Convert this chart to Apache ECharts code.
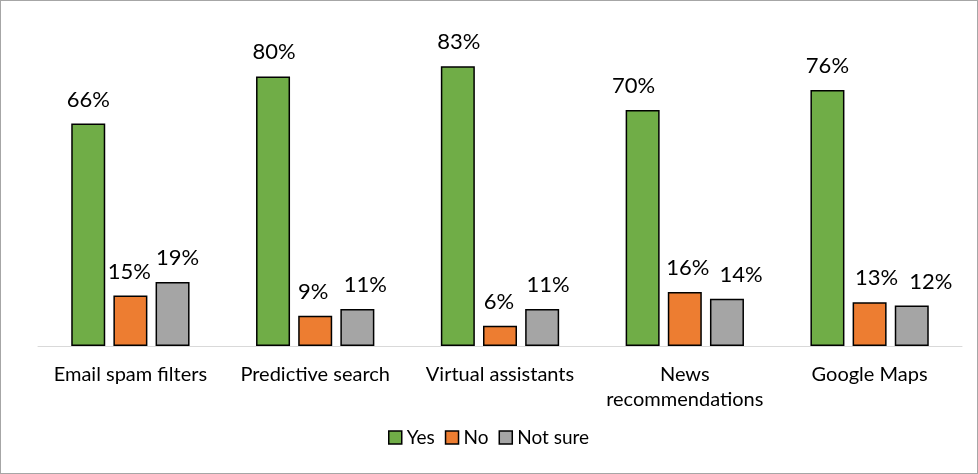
<!DOCTYPE html>
<html><head><meta charset="utf-8">
<script src="https://cdn.jsdelivr.net/npm/echarts@6/dist/echarts.min.js"></script>
<style>html,body{margin:0;padding:0;background:#fff}#c{width:978px;height:474px;box-sizing:border-box;border:1px solid #a6a6a6}</style>
</head><body><div id="c"></div>
<script>
const categories = ['Email spam filters','Predictive search','Virtual assistants','News\nrecommendations','Google Maps'];
const seriesNames = ['Yes','No','Not sure'];
const yesValues = [66,80,83,70,76];
const noValues = [15,9,6,16,13];
const notSureValues = [19,11,11,14,12];
const colors = ['#70ad47','#ed7d31','#a5a5a5'];
// horizontal nudges of the value labels (layout only), per series then category
const labelNudge = [[0,1,1,-9,0],[-1,-2,-1,3,7],[5,8,6,14,19]];
const font = 'Lato, "Open Sans", sans-serif';
const chart = echarts.init(document.getElementById('c'));
const data = [yesValues, noValues, notSureValues];
chart.setOption({
  animation:false,
  grid:{left:37,right:15,top:8,bottom:127},
  legend:{bottom:21,left:382,itemWidth:13,itemHeight:13,itemGap:10,
    textStyle:{fontFamily:font,fontSize:19,color:'#000'},
    data:seriesNames.map((n,i)=>({name:n,icon:'rect',itemStyle:{color:colors[i],borderColor:'#000',borderWidth:1.5}}))},
  xAxis:{type:'category',data:categories,axisTick:{show:false},
    axisLine:{lineStyle:{color:'#d9d9d9',width:1}},
    axisLabel:{fontFamily:font,fontSize:20,color:'#000',margin:16,lineHeight:25,interval:0}},
  yAxis:{type:'value',min:0,max:100,show:false,splitLine:{show:false}},
  series:seriesNames.map((n,i)=>({name:n,type:'bar',
    data:data[i].map((v,j)=>({value:v,label:{offset:[labelNudge[i][j],0]}})),
    barWidth:34,barGap:'24%',
    itemStyle:{color:colors[i],borderColor:'#000',borderWidth:1.5},
    label:{show:true,position:'top',distance:13,formatter:'{c}%',fontFamily:font,fontSize:22,color:'#000'}}))
});
</script></body></html>
